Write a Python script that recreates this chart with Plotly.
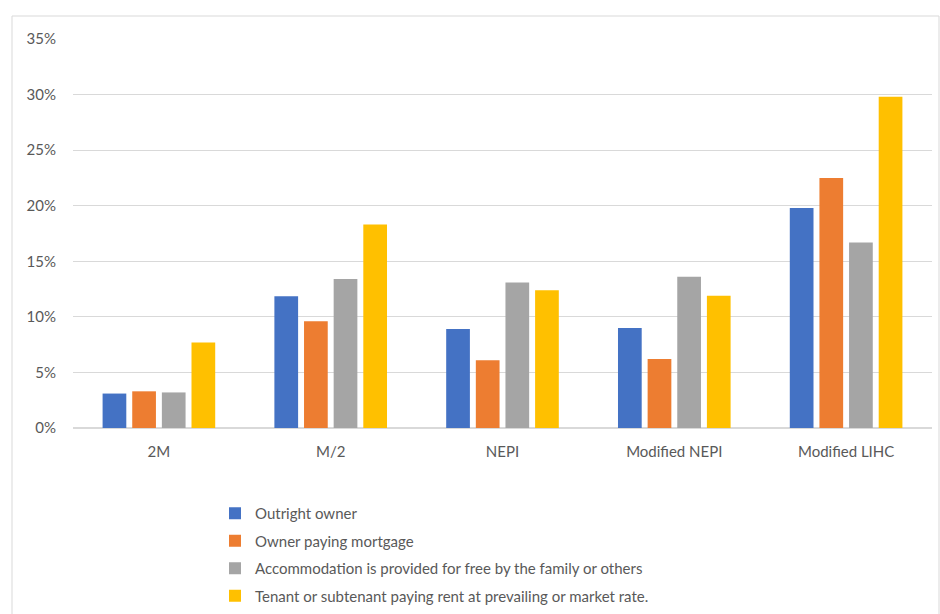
import plotly.graph_objects as go

categories = ["2M", "M/2", "NEPI", "Modified NEPI", "Modified LIHC"]
series_names = [
    "Outright owner",
    "Owner paying mortgage",
    "Accommodation is provided for free by the family or others",
    "Tenant or subtenant paying rent at prevailing or market rate.",
]
outright_owner = [0.031, 0.1185, 0.089, 0.090, 0.198]
owner_mortgage = [0.033, 0.096, 0.061, 0.062, 0.225]
free_accommodation = [0.032, 0.134, 0.131, 0.136, 0.167]
tenant_market = [0.077, 0.183, 0.124, 0.119, 0.298]
y_ticks = [0, 0.05, 0.10, 0.15, 0.20, 0.25, 0.30, 0.35]

colors = ["#4472C4", "#ED7D31", "#A5A5A5", "#FFC000"]
all_values = [outright_owner, owner_mortgage, free_accommodation, tenant_market]

W, H = 940, 614
L, R, T, B = 73, 8, 39, 186
pw, ph = W - L - R, H - T - B

def px_x(x):
    return (x - L) / pw

def px_y(y):
    return (H - B - y) / ph

fig = go.Figure()
for i, (name, vals) in enumerate(zip(series_names, all_values)):
    fig.add_trace(go.Bar(
        x=categories, y=vals, name=name,
        marker=dict(color=colors[i], line=dict(width=0)),
        legendgroup=f"g{i}",
    ))

fig.update_layout(
    width=W, height=H,
    margin=dict(l=L, r=R, t=T, b=B, autoexpand=False),
    paper_bgcolor="white", plot_bgcolor="white",
    font=dict(family="Lato", size=15, color="#595959"),
    barmode="group", bargap=0.31, bargroupgap=0.2,
    showlegend=True,
    legend=dict(
        orientation="v", x=px_x(215), xanchor="left",
        y=px_y(497), yanchor="top",
        traceorder="grouped", tracegroupgap=5,
        font=dict(family="Lato", size=15, color="#595959"),
        bgcolor="rgba(0,0,0,0)",
    ),
    xaxis=dict(
        showgrid=False, showline=True, linecolor="#D9D9D9", linewidth=1,
        ticks="", ticklabelstandoff=10,
        tickfont=dict(size=15, color="#595959"),
    ),
    yaxis=dict(
        range=[0, 0.35], tickvals=y_ticks, tickformat=".0%",
        showgrid=True, gridcolor="#D9D9D9", gridwidth=1,
        zeroline=True, zerolinecolor="#D9D9D9", showline=False,
        ticks="", ticklabelstandoff=16,
        tickfont=dict(size=15, color="#595959"),
    ),
    shapes=[dict(
        type="rect", xref="paper", yref="paper",
        x0=px_x(12), x1=px_x(939), y0=px_y(640), y1=px_y(16),
        line=dict(color="#D9D9D9", width=1), fillcolor="rgba(0,0,0,0)",
        layer="below",
    )],
)

fig.write_html("out.html")
